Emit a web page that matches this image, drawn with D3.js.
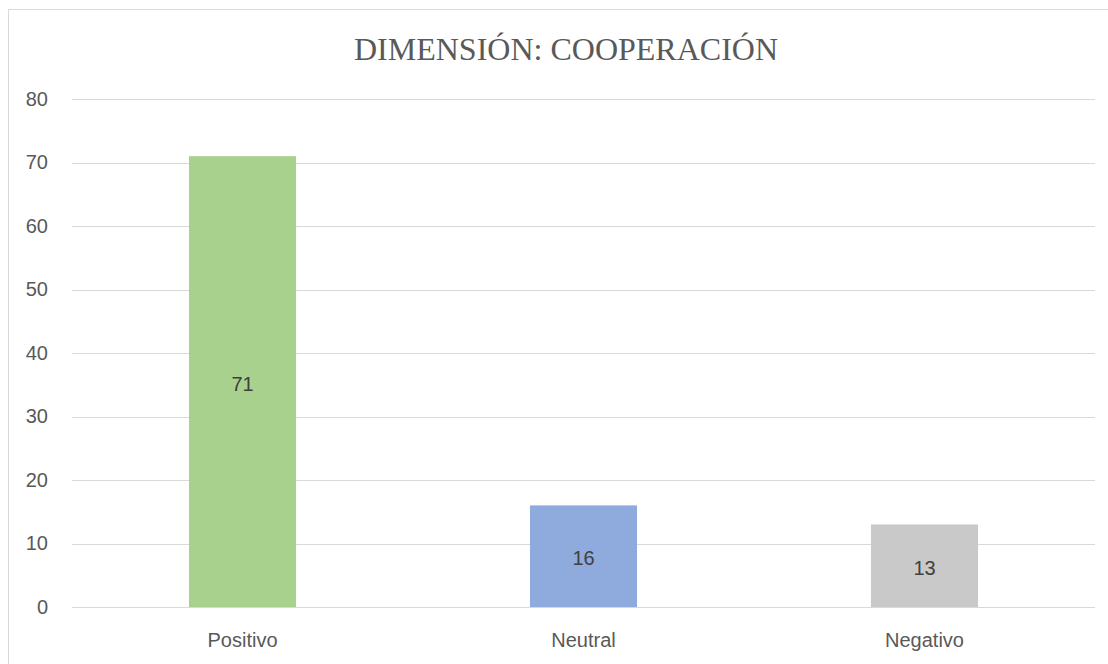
<!DOCTYPE html>
<html><head><meta charset="utf-8">
<script src="https://cdn.jsdelivr.net/npm/d3@7"></script>
<style>body{margin:0;background:#fff}svg{display:block}</style>
</head><body>
<script>
const categories = ["Positivo", "Neutral", "Negativo"];
const values = [71, 16, 13];
const colors = ["#a9d18e", "#8faadc", "#c9c9c9"];
const yTicks = [0, 10, 20, 30, 40, 50, 60, 70, 80];
const title = "DIMENSIÓN: COOPERACIÓN";

const W = 1108, H = 664;
const svg = d3.select("body").append("svg").attr("width", W).attr("height", H);
svg.append("rect").attr("x", 8.5).attr("y", 9.5).attr("width", 1110).attr("height", 670)
  .attr("fill", "#fff").attr("stroke", "#d9d9d9").attr("stroke-width", 1);

const x = d3.scaleBand().domain(categories).range([72, 1095]).paddingInner(0.686).paddingOuter(0.343);
const y = d3.scaleLinear().domain([0, 80]).range([607, 99]);

svg.append("text").attr("x", 566).attr("y", 60).attr("text-anchor", "middle")
  .attr("font-family", "Liberation Serif, serif").attr("font-size", 32).attr("fill", "#595959").text(title);

const grid = svg.append("g");
grid.selectAll("line").data(yTicks).join("line")
  .attr("x1", 72).attr("x2", 1095).attr("y1", d => Math.round(y(d)) + 0.5).attr("y2", d => Math.round(y(d)) + 0.5)
  .attr("stroke", "#d9d9d9").attr("stroke-width", 1);

const yAxis = svg.append("g").attr("transform", "translate(48,0)")
  .call(d3.axisLeft(y).tickValues(yTicks).tickSize(0).tickPadding(0));
yAxis.select(".domain").remove();
yAxis.selectAll("text").attr("font-family", "Liberation Sans, sans-serif").attr("font-size", 20).attr("fill", "#595959");

svg.selectAll("rect.bar").data(values).join("rect").attr("class", "bar")
  .attr("x", (d, i) => x(categories[i])).attr("width", x.bandwidth())
  .attr("y", d => y(d)).attr("height", d => y(0) - y(d)).attr("fill", (d, i) => colors[i]);

svg.selectAll("text.lbl").data(values).join("text").attr("class", "lbl")
  .attr("x", (d, i) => x(categories[i]) + x.bandwidth() / 2)
  .attr("y", d => (y(d) + y(0)) / 2 + 2).attr("dy", "0.35em").attr("text-anchor", "middle")
  .attr("font-family", "Liberation Sans, sans-serif").attr("font-size", 20).attr("fill", "#404040").text(d => d);

const xAxis = svg.append("g").attr("transform", "translate(0,607)")
  .call(d3.axisBottom(x).tickSize(0).tickPadding(0));
xAxis.select(".domain").remove();
xAxis.selectAll("text").attr("dy", null).attr("y", 40).attr("font-family", "Liberation Sans, sans-serif").attr("font-size", 20).attr("fill", "#595959");
</script>
</body></html>
